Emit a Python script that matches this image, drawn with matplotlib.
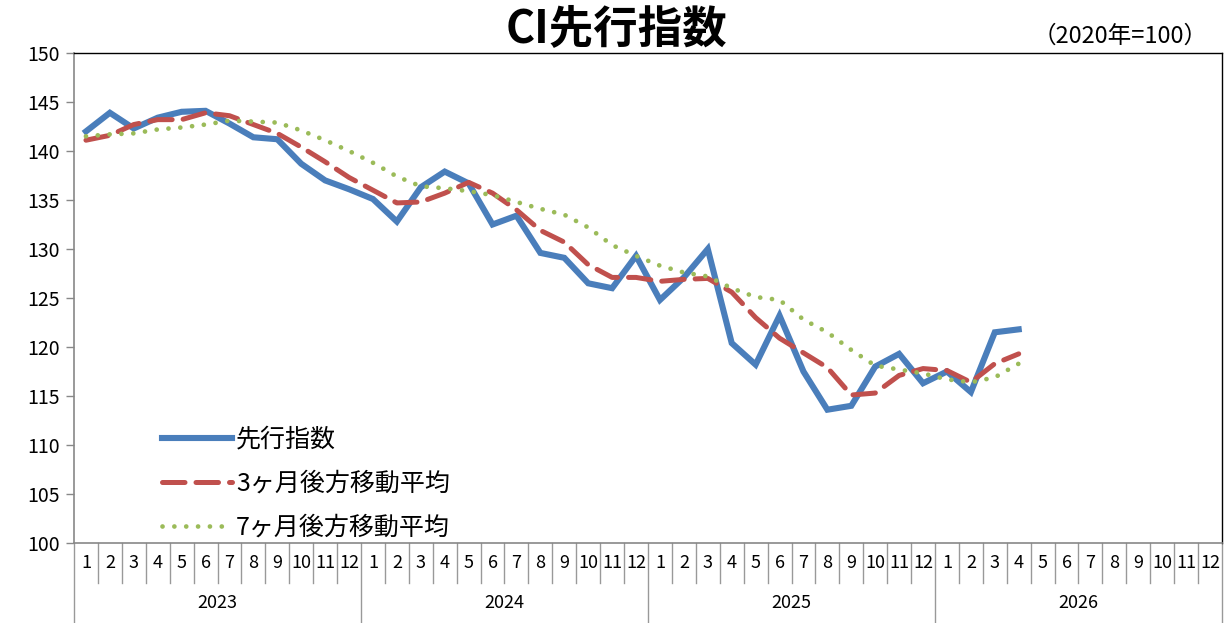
import matplotlib
matplotlib.use("Agg")
import matplotlib.pyplot as plt
import matplotlib.transforms as mtransforms
from matplotlib.lines import Line2D

plt.rcParams['font.family'] = ['Noto Sans CJK JP', 'DejaVu Sans']

years = ['2023', '2024', '2025', '2026']
month_labels = [str(m) for m in range(1, 13)]

leading = [142.0, 143.9, 142.3, 143.4, 144.0, 144.1, 142.8, 141.4, 141.2, 138.7, 137.0, 136.1,
           135.1, 132.8, 136.3, 137.9, 136.7, 132.5, 133.4, 129.6, 129.1, 126.5, 126.0, 129.3,
           124.8, 127.1, 130.0, 120.4, 118.2, 123.2, 117.5, 113.6, 114.0, 118.0, 119.3, 116.3,
           117.5, 115.4, 121.5, 121.8]
ma3 = [141.1, 141.6, 142.7, 143.2, 143.2, 143.9, 143.6, 142.7, 141.8, 140.4, 138.9, 137.3,
       136.0, 134.7, 134.8, 135.7, 136.8, 135.7, 134.0, 131.9, 130.7, 128.4, 127.1, 127.1,
       126.7, 126.9, 127.0, 125.6, 123.0, 120.9, 119.4, 117.9, 115.1, 115.3, 117.1, 117.8,
       117.6, 116.4, 118.3, 119.3]
ma7 = [141.5, 141.7, 141.8, 142.2, 142.4, 142.7, 143.1, 143.0, 142.9, 142.1, 141.1, 140.0,
       138.8, 137.4, 136.4, 136.2, 135.9, 135.5, 134.8, 134.1, 133.5, 132.2, 130.4, 129.3,
       128.3, 127.6, 127.2, 126.0, 125.1, 124.8, 122.8, 121.5, 119.7, 118.1, 117.7, 117.3,
       116.7, 116.4, 116.9, 118.3]

names = ['先行指数', '3ヶ月後方移動平均', '7ヶ月後方移動平均']
colors = ['#4A7EBB', '#C0504D', '#9BBB59']

n_months = len(years) * 12

fig = plt.figure(figsize=(12.28, 6.23), dpi=100)
ax = fig.add_axes([74 / 1228, 80 / 623, 1148 / 1228, 490 / 623])

x = list(range(len(leading)))
ax.plot(x, leading, color=colors[0], lw=4.4, solid_joinstyle='miter', label=names[0], zorder=3)
ax.plot(x, ma3, color=colors[1], lw=3.6, linestyle=(0, (4.5, 2.2)), dash_capstyle='round',
        label=names[1], zorder=4)
ax.plot(x, ma7, color=colors[2], lw=3.4, linestyle=(0, (0.01, 2.5)), dash_capstyle='round',
        label=names[2], zorder=5)

ax.set_xlim(-0.5, n_months - 0.5)
ax.set_ylim(100, 150)
ax.set_yticks(range(100, 151, 5))
ax.tick_params(axis='y', labelsize=14, length=6, width=1, color='#888888', direction='out', pad=4)
ax.set_xticks([])

for s in ['left', 'bottom']:
    ax.spines[s].set_color('#888888')
    ax.spines[s].set_linewidth(1.2)
for s in ['top', 'right']:
    ax.spines[s].set_color('#000000')
    ax.spines[s].set_linewidth(1.0)

trans = mtransforms.blended_transform_factory(ax.transData, ax.transAxes)
row = 40 / 490
for i in range(n_months):
    ax.text(i, -row / 2, month_labels[i % 12], transform=trans, ha='center', va='center',
            fontsize=13, clip_on=False)
for b in range(n_months + 1):
    xb = b - 0.5
    if b % 12 == 0:
        y0 = -2 * row
    else:
        y0 = -row
    ax.add_line(Line2D([xb, xb], [0, y0], transform=trans, color='#999999', lw=1.0,
                       clip_on=False))
for k, yr in enumerate(years):
    ax.text(k * 12 + 5.5, -1.5 * row, yr, transform=trans, ha='center', va='center',
            fontsize=13, clip_on=False)

fig.text(616 / 1228, 1 - 29 / 623, 'CI先行指数', ha='center', va='center', fontsize=32,
         fontweight='bold')
fig.text(1120 / 1228, 1 - 36 / 623, '（2020年=100）', ha='center', va='center', fontsize=17)

leg = ax.legend(loc='lower left', bbox_to_anchor=(0.068, -0.015), frameon=False, fontsize=18,
                handlelength=2.8, handletextpad=0.15, labelspacing=0.72, borderaxespad=0)

fig.savefig('out.png', dpi=100)
